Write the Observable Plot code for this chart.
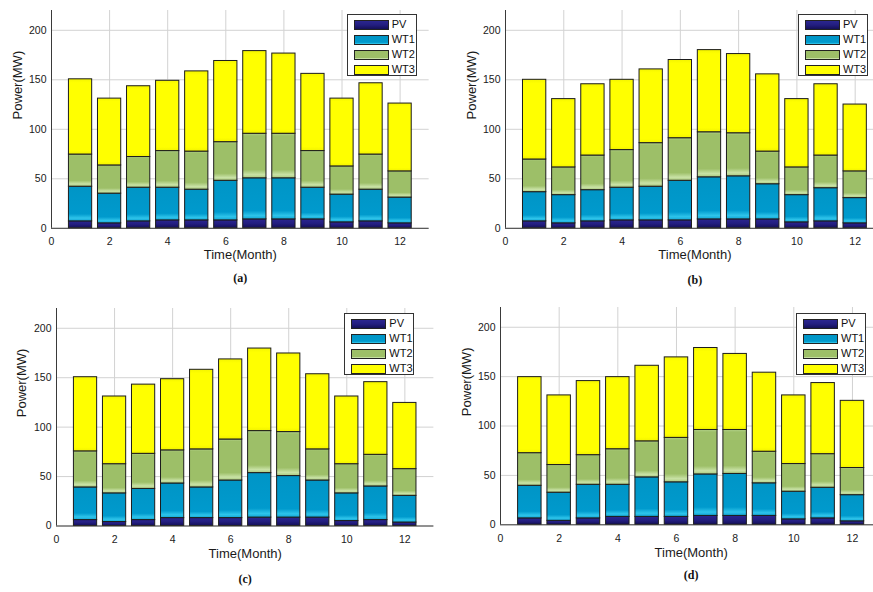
<!DOCTYPE html>
<html>
<head>
<meta charset="utf-8">
<script src="https://cdn.jsdelivr.net/npm/d3@7"></script>
<script src="https://cdn.jsdelivr.net/npm/@observablehq/plot@0.6"></script>
<style>
  body { margin: 0; background: #fff; }
  #root { position: relative; width: 873px; height: 592px; overflow: hidden; background: #fff;
          font-family: "Liberation Sans", Arial, sans-serif; }
  .panel { position: absolute; }
  .panel svg { max-width: none !important; display: block; }
  .legend { position: absolute; width: 70px; height: 62px; border: 1px solid #333; background: #fff; box-sizing: border-box; }
  .legend .row { position: absolute; left: 0; height: 15px; width: 70px; }
  .legend .sw { position: absolute; left: 6px; top: 3px; width: 33px; height: 8px; border: 1px solid #222; }
  .legend .lab { position: absolute; left: 44px; top: 0px; font-size: 11px; line-height: 15px; color: #111; }
</style>
</head>
<body>
<div id="root"></div>
<script>
// ---------------- data ----------------
const months = [1, 2, 3, 4, 5, 6, 7, 8, 9, 10, 11, 12];
const seriesNames = ["PV", "WT1", "WT2", "WT3"];
const xTicks = [0, 2, 4, 6, 8, 10, 12];
const yTicks = [0, 50, 100, 150, 200];
const xLabel = "Time(Month)";
const yLabel = "Power(MW)";
const captions = ["(a)", "(b)", "(c)", "(d)"];

// panel (a)
const pvA  = [7, 5, 7, 8, 8, 8, 9, 9, 9, 6, 7, 5];
const wt1A = [35, 30, 34, 33, 31, 40, 41.5, 41.5, 32, 28, 32, 26];
const wt2A = [32.5, 28.5, 31, 37, 38.5, 39, 45, 45, 37, 28.5, 35.5, 26.5];
const wt3A = [76, 67.5, 71.5, 71, 81, 82, 83.5, 81, 78, 68.5, 72, 68.5];
// panel (b)
const pvB  = [7, 5, 7, 8, 8, 8, 9, 9, 9, 6, 7, 5];
const wt1B = [29.5, 28.5, 31.5, 33, 34, 40, 42.5, 43.5, 35.5, 27.5, 33.5, 25.5];
const wt2B = [33, 28, 35, 38, 44, 43, 45.5, 43.5, 33, 28, 33, 27];
const wt3B = [80.5, 69, 72, 71, 74.5, 79, 83, 80, 78, 69, 72, 67.5];
// panel (c)
const pvC  = [6, 4, 6, 8, 8, 8, 8.5, 8.5, 8.5, 5, 6, 3.5];
const wt1C = [33, 29, 31.5, 35, 31, 38, 45, 42, 37.5, 28, 34, 27];
const wt2C = [36.5, 29.5, 35.5, 33.5, 38.5, 41.5, 42.5, 44.5, 31.5, 29.5, 32, 27];
const wt3C = [75, 68.5, 70, 72, 80.5, 81, 83.5, 79.5, 76, 68.5, 73.5, 67];
// panel (d)
const pvD  = [6.5, 4, 6.5, 8, 8, 8, 9, 9, 9, 5.5, 6.5, 3.5];
const wt1D = [33, 28.5, 34, 32.5, 40, 35, 42, 42.5, 33, 28, 31, 26.5];
const wt2D = [33, 28, 30, 36, 36.5, 45, 45, 44.5, 32, 28, 34, 27.5];
const wt3D = [77, 70.5, 75, 73, 76.5, 81.5, 83, 77, 80, 69.5, 72, 68];

// ---------------- styles ----------------
const colors = { PV: "#211c7c", WT1: "#0099cc", WT2: "#9dbf68", WT3: "#ffff00" };
const gradients = {
  PV:  [[0, "#2b2690"], [0.5, "#231e80"], [1, "#141058"]],
  WT1: [[0, "#0095c6"], [0.8, "#009acd"], [0.92, "#2ec4ea"], [1, "#12a6d6"]],
  WT2: [[0, "#b2d08a"], [0.06, "#9dbf68"], [0.82, "#9dbf68"], [0.93, "#c9e2a6"], [1, "#a9c97c"]],
  WT3: [[0, "#f4f400"], [0.05, "#ffff00"], [0.95, "#ffff00"], [1, "#f2f200"]]
};

const panels = [
  { id: "a", series: [pvA, wt1A, wt2A, wt3A], x0: 50.7, ux: 29.05, y0: 227.3, ytop: 9.5,
    tickPad: 9, xlabelDy: 31, capDy: 54, ylabelX: 16.7, legend: [346.7, 14] },
  { id: "b", series: [pvB, wt1B, wt2B, wt3B], x0: 505.3, ux: 29.14, y0: 227.3, ytop: 9.5,
    tickPad: 9, xlabelDy: 31, capDy: 56, ylabelX: 471.7, legend: [798, 14] },
  { id: "c", series: [pvC, wt1C, wt2C, wt3C], x0: 55.7, ux: 29.03, y0: 525, ytop: 307.5,
    tickPad: 10, xlabelDy: 32, capDy: 56.5, ylabelX: 20.7, legend: [344.3, 313.3] },
  { id: "d", series: [pvD, wt1D, wt2D, wt3D], x0: 500.3, ux: 29.33, y0: 524.3, ytop: 307,
    tickPad: 10, xlabelDy: 32, capDy: 54, ylabelX: 466.7, legend: [796, 313.3] }
];

const root = document.getElementById("root");
const ML = 51, MR = 12, MT = 10, MB = 66;

panels.forEach((p, pi) => {
  // stacked table built from the arrays
  const rows = [];
  months.forEach((m, i) => {
    let base = 0;
    seriesNames.forEach((name, k) => {
      const v = p.series[k][i];
      rows.push({ month: m, series: name, y1: base, y2: base + v });
      base += v;
    });
  });

  const left = p.x0 - ML, top = p.ytop - MT;
  const width = Math.round(13 * p.ux + ML + MR);
  const height = Math.round((p.y0 - p.ytop) + MT + MB);

  const barMarks = seriesNames.map(name =>
    Plot.rect(rows.filter(r => r.series === name), {
      x1: d => d.month - 0.4, x2: d => d.month + 0.4, y1: "y1", y2: "y2",
      fill: colors[name], stroke: "#1c1c1c", strokeWidth: 1
    })
  );

  const chart = Plot.plot({
    width, height,
    marginLeft: ML, marginRight: width - ML - 13 * p.ux, marginTop: MT, marginBottom: height - MT - (p.y0 - p.ytop),
    style: { fontFamily: "'Liberation Sans', Arial, sans-serif", fontSize: "10.5px", color: "#1a1a1a", background: "transparent", overflow: "visible" },
    x: { domain: [0, 13], ticks: xTicks },
    y: { domain: [0, 220], ticks: yTicks },
    marks: [
      Plot.ruleX(xTicks, { stroke: "#d2d2d2", strokeWidth: 1 }),
      Plot.ruleY(yTicks, { stroke: "#d2d2d2", strokeWidth: 1 }),
      ...barMarks,
      Plot.ruleX([0], { stroke: "#3a3a3a", strokeWidth: 1 }),
      Plot.ruleY([0], { stroke: "#3a3a3a", strokeWidth: 1 }),
      Plot.axisX({ ticks: xTicks, tickSize: 0, tickPadding: p.tickPad, label: null }),
      Plot.axisY({ ticks: yTicks, tickSize: 0, tickPadding: 5, label: null }),
      Plot.text([xLabel], { text: d => d, frameAnchor: "bottom", dy: p.xlabelDy, fontSize: 13, fill: "#1a1a1a" }),
      Plot.text([yLabel], { text: d => d, frameAnchor: "left", dx: p.ylabelX - p.x0, rotate: -90, fontSize: 13, fill: "#1a1a1a" }),
      Plot.text([captions[pi]], { text: d => d, frameAnchor: "bottom", dy: p.capDy, fontSize: 12, fontWeight: "bold",
        fontFamily: "'Liberation Serif', 'Times New Roman', serif", fill: "#111" })
    ]
  });

  // gradient shading for the bar segments
  const ns = "http://www.w3.org/2000/svg";
  const defs = document.createElementNS(ns, "defs");
  seriesNames.forEach(name => {
    const lg = document.createElementNS(ns, "linearGradient");
    lg.setAttribute("id", `g-${p.id}-${name}`);
    lg.setAttribute("x1", "0"); lg.setAttribute("y1", "0");
    lg.setAttribute("x2", "0"); lg.setAttribute("y2", "1");
    gradients[name].forEach(([o, c]) => {
      const st = document.createElementNS(ns, "stop");
      st.setAttribute("offset", o); st.setAttribute("stop-color", c);
      lg.appendChild(st);
    });
    defs.appendChild(lg);
  });
  chart.insertBefore(defs, chart.firstChild);
  chart.querySelectorAll("g[fill]").forEach(g => {
    const f = g.getAttribute("fill");
    seriesNames.forEach(name => {
      if (f === colors[name]) g.setAttribute("fill", `url(#g-${p.id}-${name})`);
    });
  });

  const div = document.createElement("div");
  div.className = "panel";
  div.style.left = left + "px";
  div.style.top = top + "px";
  div.style.width = width + "px";
  div.style.height = height + "px";
  chart.style.maxWidth = "none";
  chart.style.width = width + "px";
  chart.style.height = height + "px";
  div.appendChild(chart);
  root.appendChild(div);

  // legend
  const lg = document.createElement("div");
  lg.className = "legend";
  lg.style.left = p.legend[0] + "px";
  lg.style.top = p.legend[1] + "px";
  seriesNames.forEach((name, k) => {
    const row = document.createElement("div");
    row.className = "row";
    row.style.top = (2 + 15 * k) + "px";
    const sw = document.createElement("div");
    sw.className = "sw";
    const stops = gradients[name].map(([o, c]) => `${c} ${o * 100}%`).join(",");
    sw.style.background = `linear-gradient(to bottom, ${stops})`;
    const lab = document.createElement("div");
    lab.className = "lab";
    lab.textContent = name;
    row.appendChild(sw); row.appendChild(lab);
    lg.appendChild(row);
  });
  root.appendChild(lg);
});
</script>
</body>
</html>
